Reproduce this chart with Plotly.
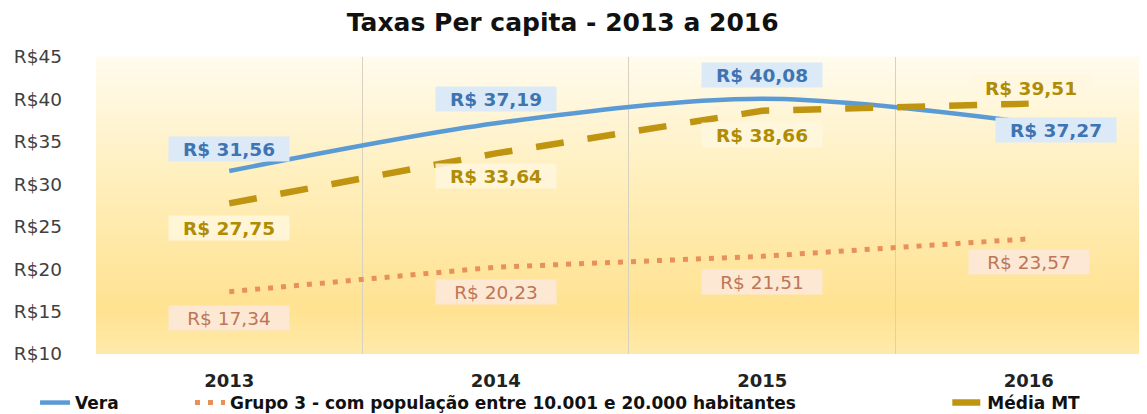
import plotly.graph_objects as go

years = ["2013", "2014", "2015", "2016"]
vera = [31.56, 37.19, 40.08, 37.27]
grupo3 = [17.34, 20.23, 21.51, 23.57]
media_mt = [27.75, 33.64, 38.66, 39.51]
y_ticks = [10, 15, 20, 25, 30, 35, 40, 45]
y_tick_labels = ["R$10", "R$15", "R$20", "R$25", "R$30", "R$35", "R$40", "R$45"]

x = list(range(len(years)))

def fmt(v):
    return "R$ " + f"{v:.2f}".replace(".", ",")

FONT = "DejaVu Sans, Verdana, sans-serif"

fig = go.Figure()

# gradient background (styling only)
def lerp(c1, c2, t):
    return tuple(int(round(a + (b - a) * t)) for a, b in zip(c1, c2))

stops = [(0.0, (255, 251, 238)), (0.45, (255, 238, 185)), (0.85, (255, 226, 145)), (1.0, (255, 234, 170))]
n = 40
for i in range(n):
    t = (i + 0.5) / n
    for j in range(len(stops) - 1):
        if stops[j][0] <= t <= stops[j + 1][0]:
            tt = (t - stops[j][0]) / (stops[j + 1][0] - stops[j][0])
            c = lerp(stops[j][1], stops[j + 1][1], tt)
            break
    fig.add_shape(type="rect", xref="x domain", yref="y domain",
                  x0=0, x1=1, y0=1 - (i + 1) / n, y1=1 - i / n + 0.002,
                  fillcolor="rgb(%d,%d,%d)" % c, line_width=0, layer="below")

fig.add_trace(go.Scatter(x=x, y=vera, name="Vera", mode="lines", legend="legend",
                         line=dict(color="#5B9BD5", width=4.5, shape="spline", smoothing=0.9)))
fig.add_trace(go.Scatter(x=x, y=grupo3,
                         name="Grupo 3 - com população entre 10.001 e 20.000 habitantes",
                         mode="lines", legend="legend2",
                         line=dict(color="#E8905A", width=5, dash="5px,8px")))
fig.add_trace(go.Scatter(x=x, y=media_mt, name="Média MT", mode="lines", legend="legend3",
                         line=dict(color="#BF9410", width=6.5, dash="28px,24px")))

vera_off = [(0, 22), (0, 24), (0, 24), (27, -7)]
media_off = [(0, -25), (0, -23), (0, -24), (2, 16)]
grupo_off = [(0, -26), (0, -25), (0, -26), (0, -23)]

for i in x:
    fig.add_annotation(x=i, y=vera[i], text="<b>" + fmt(vera[i]) + "</b>", showarrow=False,
                       xshift=vera_off[i][0], yshift=vera_off[i][1], width=116, height=20,
                       bgcolor="#DCEAF7", font=dict(color="#3F74B3", size=18.5, family=FONT),
                       borderpad=2)
    fig.add_annotation(x=i, y=media_mt[i], text="<b>" + fmt(media_mt[i]) + "</b>", showarrow=False,
                       xshift=media_off[i][0], yshift=media_off[i][1], width=116, height=20,
                       bgcolor="rgba(255,247,222,0.85)", font=dict(color="#B08C05", size=18.5, family=FONT),
                       borderpad=2)
    fig.add_annotation(x=i, y=grupo3[i], text=fmt(grupo3[i]), showarrow=False,
                       xshift=grupo_off[i][0], yshift=grupo_off[i][1], width=116, height=20,
                       bgcolor="rgba(252,232,216,0.92)", font=dict(color="#BD7656", size=18.5, family=FONT),
                       borderpad=2)

leg_common = dict(orientation="h", yanchor="middle", y=-0.165, xanchor="left",
                  font=dict(size=17, color="#111111", family=FONT, weight="bold"),
                  bgcolor="rgba(0,0,0,0)")

fig.update_layout(
    width=1139, height=406,
    margin=dict(l=88, r=0, t=49, b=60, autoexpand=False),
    paper_bgcolor="white", plot_bgcolor="#FFF3CC",
    title=dict(text="<b>Taxas Per capita - 2013 a 2016</b>", x=0.487, xanchor="center", y=0.966, yanchor="middle",
               font=dict(size=25, color="#111111", family=FONT)),
    font=dict(family=FONT, color="#404040"),
    showlegend=True,
    legend=dict(x=-0.058, **leg_common),
    legend2=dict(x=0.0894, **leg_common),
    legend3=dict(x=0.81, **leg_common),
)
fig.update_xaxes(range=[-0.5, 3.444], tickvals=x, ticktext=["<b>" + y + "</b>" for y in years],
                 tickfont=dict(size=18, color="#222222", family=FONT), showgrid=False, zeroline=False,
                 showline=False, ticks="", automargin=False, ticklabelstandoff=14,
                 minor=dict(tickvals=[0.5, 1.5, 2.5], showgrid=True, gridcolor="#D8D1BD", gridwidth=1))
fig.update_yaxes(range=[10, 45], tickvals=y_ticks, ticktext=y_tick_labels, showgrid=False,
                 zeroline=False, tickfont=dict(size=18.5, color="#404040", family=FONT), ticks="",
                 ticklabelstandoff=33, automargin=False)

fig.write_html("out.html")
